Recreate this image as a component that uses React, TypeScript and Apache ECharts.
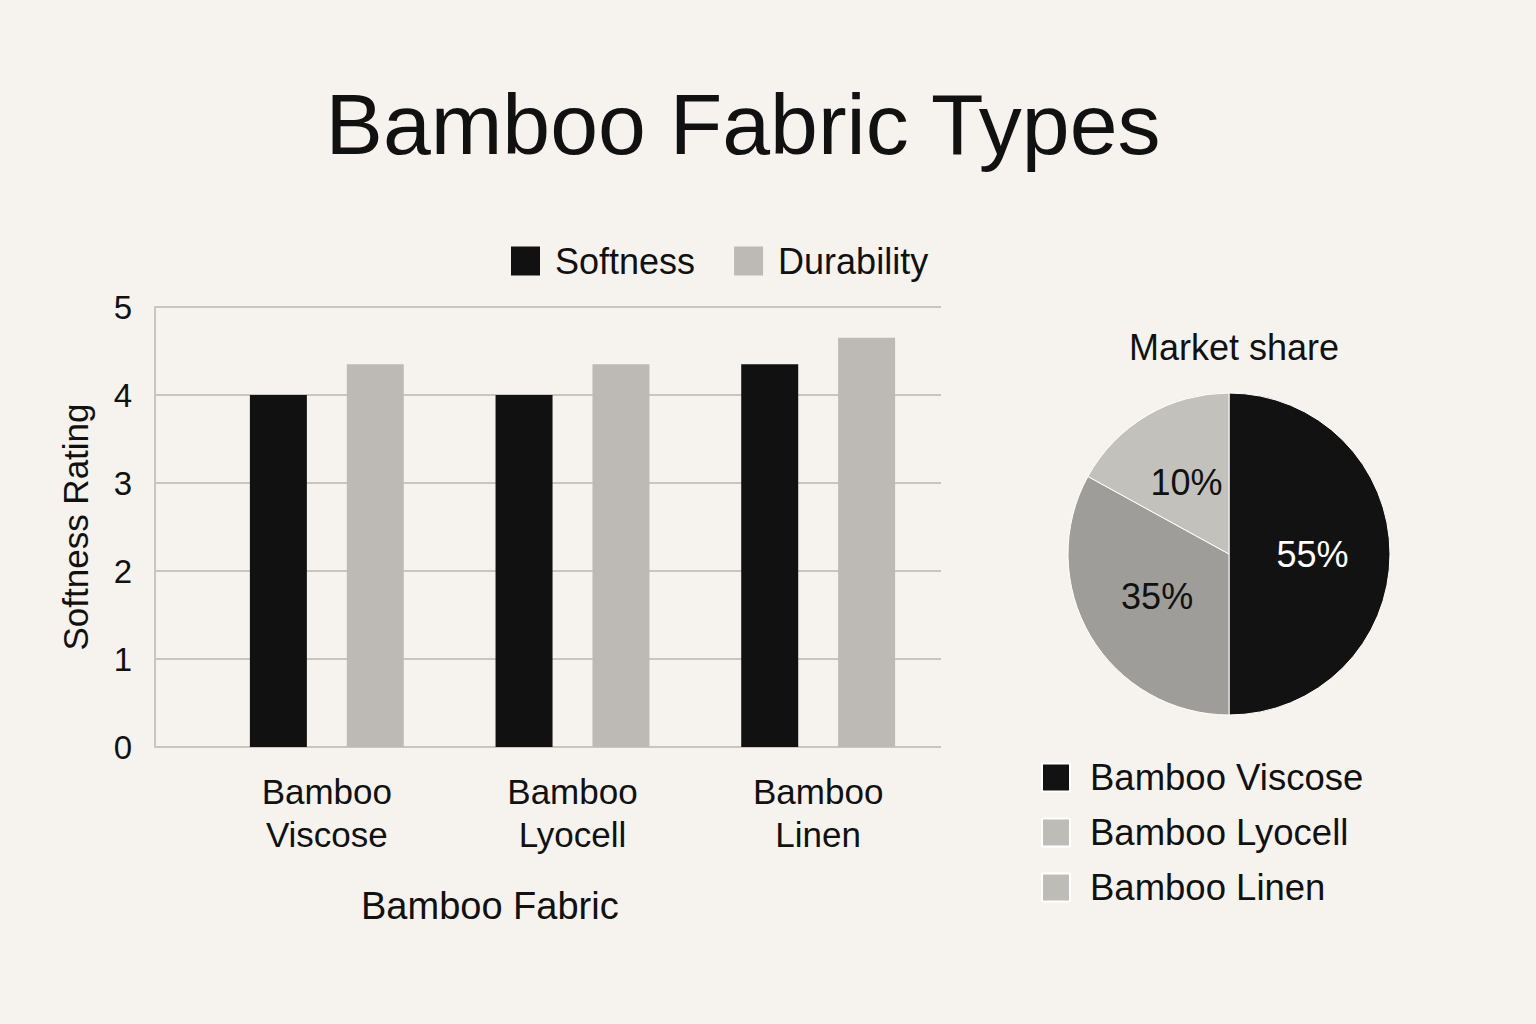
import React, { useEffect, useRef } from 'react';
import * as echarts from 'echarts';

// bar chart data
const fabrics = ['Bamboo\nViscose', 'Bamboo\nLyocell', 'Bamboo\nLinen'];
const softness = [4, 4, 4.35];
const durability = [4.35, 4.35, 4.65];
const yTicks = [0, 1, 2, 3, 4, 5];

const shareNames = ['Bamboo Viscose', 'Bamboo Lyocell', 'Bamboo Linen'];
const shareSlices = [50, 33, 17];
const shareLabels = ['55%', '35%', '10%'];

const FONT = '"Liberation Sans", Arial, sans-serif';
const INK = '#111111';
const GRID_LINE = '#c9c6c0';
const BAR_GREY = '#bdbab5';
const PIE_COLORS = ['#121212', '#9e9d99', '#c3c1bc'];
const PIE_LEGEND_COLORS = ['#121212', '#bdbcb7', '#bdbcb7'];

const App: React.FC = () => {
  const chartRef = useRef<HTMLDivElement>(null);

  useEffect(() => {
    document.body.style.margin = '0';
    if (!chartRef.current) return;
    const chart = echarts.init(chartRef.current, undefined, { renderer: 'svg' });

    const gridTop = 307;
    const gridBottom = 1024 - 747;
    const gridRight = 1536 - 941;

    const option: echarts.EChartsOption = {
      animation: false,
      backgroundColor: '#f6f3ee',
      textStyle: { fontFamily: FONT, color: INK },
      title: [
        {
          text: 'Bamboo Fabric Types',
          left: 738,
          top: 76,
          textAlign: 'center',
          textStyle: { fontSize: 86, fontWeight: 'normal', color: INK, fontFamily: FONT },
        },
        {
          text: 'Market share',
          left: 1229,
          top: 324,
          textAlign: 'center',
          textStyle: { fontSize: 36, fontWeight: 'normal', color: INK, fontFamily: FONT },
        },
      ],
      legend: [
        {
          data: ['Softness', 'Durability'],
          left: 511,
          top: 243,
          padding: 0,
          icon: 'rect',
          itemWidth: 29,
          itemHeight: 29,
          itemGap: 39,
          textStyle: { fontSize: 36, color: INK, fontFamily: FONT, padding: [0, 0, 0, 10] },
        },
        {
          data: shareNames.map((name, i) => ({ name, itemStyle: { color: PIE_LEGEND_COLORS[i] } })),
          orient: 'vertical',
          left: 1041,
          top: 759,
          padding: 0,
          icon: 'rect',
          itemWidth: 28,
          itemHeight: 28,
          itemGap: 18,
          textStyle: { fontSize: 36.5, color: INK, fontFamily: FONT, padding: [0, 0, 0, 15] },
        },
      ],
      grid: [
        { left: 155, right: gridRight, top: gridTop, bottom: gridBottom },
        { left: 204, right: gridRight, top: gridTop, bottom: gridBottom },
      ],
      xAxis: [
        {
          type: 'category',
          gridIndex: 0,
          data: fabrics,
          show: false,
        },
        {
          type: 'category',
          gridIndex: 1,
          data: fabrics,
          axisLine: { show: false },
          axisTick: { show: false },
          axisLabel: {
            fontSize: 35,
            color: INK,
            fontFamily: FONT,
            lineHeight: 43,
            margin: 23,
          },
        },
      ],
      yAxis: [
        {
          type: 'value',
          gridIndex: 0,
          min: yTicks[0],
          max: yTicks[yTicks.length - 1],
          interval: 1,
          name: 'Softness Rating',
          nameLocation: 'middle',
          nameGap: 62,
          nameTextStyle: { fontSize: 35, color: INK, fontFamily: FONT },
          axisLine: { show: true, lineStyle: { color: GRID_LINE, width: 2 } },
          axisTick: { show: false },
          axisLabel: { fontSize: 33, color: INK, fontFamily: FONT, margin: 23 },
          splitLine: { show: true, lineStyle: { color: GRID_LINE, width: 2 } },
        },
        {
          type: 'value',
          gridIndex: 1,
          min: yTicks[0],
          max: yTicks[yTicks.length - 1],
          interval: 1,
          show: false,
          splitLine: { show: false },
        },
      ],
      graphic: [
        {
          type: 'text',
          left: 361,
          top: 887,
          style: { text: 'Bamboo Fabric', fontSize: 38, fill: INK, fontFamily: FONT },
        },
      ],
      series: [
        {
          name: 'Softness',
          type: 'bar',
          xAxisIndex: 1,
          yAxisIndex: 1,
          data: softness,
          barWidth: 57,
          barGap: '70%',
          itemStyle: { color: INK },
        },
        {
          name: 'Durability',
          type: 'bar',
          xAxisIndex: 1,
          yAxisIndex: 1,
          data: durability,
          barWidth: 57,
          barGap: '70%',
          itemStyle: { color: BAR_GREY },
        },
        {
          name: 'Market share',
          type: 'pie',
          center: [1229, 554],
          radius: 161,
          startAngle: 90,
          clockwise: true,
          data: shareNames.map((name, i) => ({
            name,
            value: shareSlices[i],
            itemStyle: { color: PIE_COLORS[i] },
            label: { color: i === 0 ? '#ffffff' : INK },
          })),
          itemStyle: { borderColor: '#ffffff', borderWidth: 1 },
          label: {
            show: true,
            position: 'inside',
            fontSize: 36,
            fontFamily: FONT,
            formatter: (p: any) => shareLabels[p.dataIndex],
          },
          labelLine: { show: false },
          emphasis: { disabled: true },
        },
      ],
    };

    chart.setOption(option);
    return () => {
      chart.dispose();
    };
  }, []);

  return <div ref={chartRef} style={{ width: 1536, height: 1024 }} />;
};

export default App;
